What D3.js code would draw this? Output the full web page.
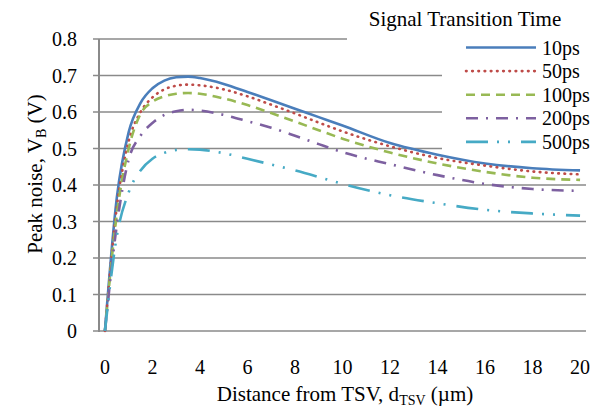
<!DOCTYPE html>
<html>
<head>
<meta charset="utf-8">
<script src="https://cdn.jsdelivr.net/npm/d3@7"></script>
<style>
  html, body { margin: 0; padding: 0; background: #fff; }
  svg { display: block; font-family: "Liberation Serif", "Times New Roman", serif; }
</style>
</head>
<body>
<svg id="chart" width="603" height="408"></svg>
<script>
const distances = [0, 0.5, 1, 1.5, 2, 2.5, 3, 3.5, 4, 5, 6, 7, 8, 9, 10, 12, 14, 16, 18, 20];
const seriesNames = ["10ps", "50ps", "100ps", "200ps", "500ps"];
const v10ps  = [0, 0.365, 0.545, 0.625, 0.665, 0.686, 0.695, 0.697, 0.693, 0.677, 0.655, 0.632, 0.609, 0.586, 0.563, 0.515, 0.483, 0.459, 0.446, 0.440];
const v50ps  = [0, 0.340, 0.520, 0.600, 0.640, 0.662, 0.672, 0.675, 0.673, 0.662, 0.643, 0.620, 0.596, 0.571, 0.547, 0.506, 0.474, 0.453, 0.437, 0.429];
const v100ps = [0, 0.320, 0.500, 0.595, 0.628, 0.643, 0.650, 0.652, 0.650, 0.637, 0.619, 0.597, 0.574, 0.550, 0.527, 0.489, 0.459, 0.436, 0.420, 0.414];
const v200ps = [0, 0.290, 0.470, 0.535, 0.570, 0.592, 0.602, 0.606, 0.604, 0.592, 0.575, 0.557, 0.535, 0.512, 0.490, 0.457, 0.427, 0.403, 0.389, 0.384];
const v500ps = [0, 0.260, 0.380, 0.440, 0.472, 0.488, 0.496, 0.498, 0.497, 0.487, 0.472, 0.456, 0.440, 0.422, 0.403, 0.372, 0.350, 0.332, 0.322, 0.316];
const xTicks = [0, 2, 4, 6, 8, 10, 12, 14, 16, 18, 20];
const yTicks = [0, 0.1, 0.2, 0.3, 0.4, 0.5, 0.6, 0.7, 0.8];
const legendTitle = "Signal Transition Time";

const allSeries = [v10ps, v50ps, v100ps, v200ps, v500ps];
const styles = [
  { color: "#4a7ebb", dash: null, cap: "butt" },
  { color: "#be4b48", dash: "0.6,5.6", cap: "round" },
  { color: "#98b954", dash: "9,6", cap: "butt" },
  { color: "#7d60a0", dash: "12,8,2,8", cap: "butt" },
  { color: "#46aac5", dash: "22,9,2,9,2,11", cap: "butt" }
];

const svg = d3.select("#chart");
const x = d3.scaleLinear().domain([-0.25, 20.25]).range([99, 586]);
const y = d3.scaleLinear().domain([0, 0.8]).range([331, 39]);
const gridColor = "#8a8a8a";

// gridlines (including the zero line acting as x-axis)
svg.append("g").selectAll("line").data(yTicks).join("line")
  .attr("x1", 93).attr("x2", 586)
  .attr("y1", d => y(d)).attr("y2", d => y(d))
  .attr("stroke", gridColor).attr("stroke-width", 1.6);

// vertical axis line
svg.append("line")
  .attr("x1", 99).attr("x2", 99).attr("y1", y(0.8)).attr("y2", y(0) + 1)
  .attr("stroke", gridColor).attr("stroke-width", 2);

// legend backgrounds (cover gridlines)
svg.append("rect").attr("x", 347).attr("y", 0).attr("width", 256).attr("height", 46).attr("fill", "#fff");
svg.append("rect").attr("x", 442).attr("y", 34).attr("width", 161).attr("height", 126).attr("fill", "#fff");

// y tick labels
svg.append("g").selectAll("text").data(yTicks).join("text")
  .attr("x", 77).attr("y", d => y(d)).attr("dy", "0.35em")
  .attr("text-anchor", "end").attr("font-size", 20).attr("fill", "#000")
  .text(d => d === 0 ? "0" : d3.format(".1f")(d));

// x tick labels
svg.append("g").selectAll("text").data(xTicks).join("text")
  .attr("x", d => x(d)).attr("y", 374)
  .attr("text-anchor", "middle").attr("font-size", 20).attr("fill", "#000")
  .text(d => d);

// lines
const line = d3.line()
  .x((d, i) => x(distances[i]))
  .y(d => y(d))
  .curve(d3.curveMonotoneX);

allSeries.forEach((vals, i) => {
  const s = styles[i];
  const p = svg.append("path")
    .attr("d", line(vals))
    .attr("fill", "none")
    .attr("stroke", s.color)
    .attr("stroke-width", 2.6)
    .attr("stroke-linecap", s.cap)
    .attr("stroke-linejoin", "round");
  if (s.dash) p.attr("stroke-dasharray", s.dash);
});

// legend
svg.append("text").attr("x", 465).attr("y", 26).attr("text-anchor", "middle")
  .attr("font-size", 21).attr("fill", "#000").text(legendTitle);
seriesNames.forEach((name, i) => {
  const cy = 47.5 + i * 23.6;
  const s = styles[i];
  const l = svg.append("line")
    .attr("x1", 466).attr("x2", 536).attr("y1", cy).attr("y2", cy)
    .attr("stroke", s.color).attr("stroke-width", 2.6)
    .attr("stroke-linecap", s.cap);
  if (s.dash) l.attr("stroke-dasharray", s.dash);
  svg.append("text").attr("x", 542).attr("y", cy).attr("dy", "0.35em")
    .attr("font-size", 20).attr("fill", "#000").text(name);
});

// y axis title
const yt = svg.append("text")
  .attr("transform", "translate(42,174) rotate(-90)")
  .attr("text-anchor", "middle").attr("font-size", 21).attr("fill", "#000");
yt.append("tspan").text("Peak noise, V");
yt.append("tspan").attr("font-size", 14).attr("dy", 4).text("B");
yt.append("tspan").attr("dy", -4).text(" (V)");

// x axis title
const xt = svg.append("text")
  .attr("x", 345).attr("y", 401)
  .attr("text-anchor", "middle").attr("font-size", 21).attr("fill", "#000");
xt.append("tspan").text("Distance from TSV, d");
xt.append("tspan").attr("font-size", 14).attr("dy", 4).text("TSV");
xt.append("tspan").attr("dy", -4).text(" (µm)");
</script>
</body>
</html>
